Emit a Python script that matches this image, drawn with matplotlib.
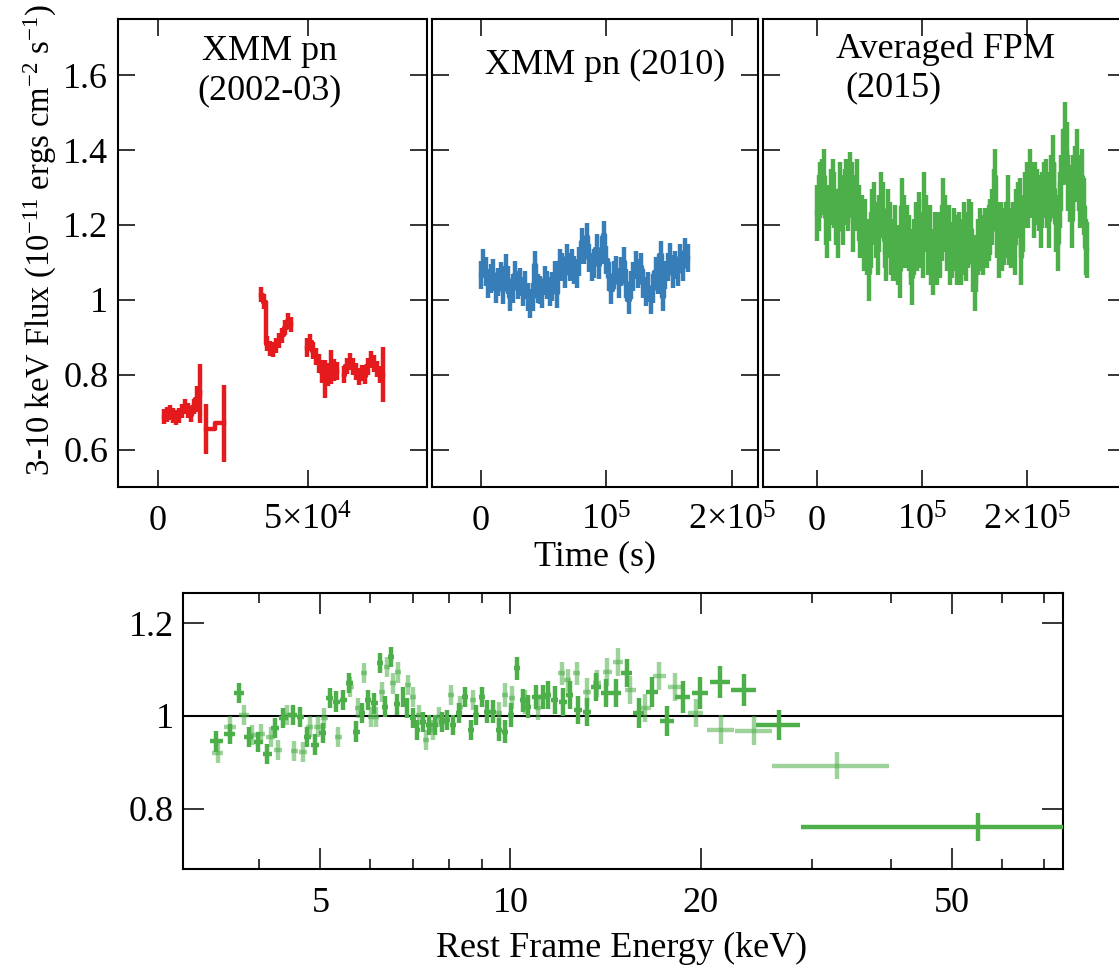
import numpy as np
import matplotlib
matplotlib.use("Agg")
import matplotlib.pyplot as plt
from matplotlib.ticker import FixedLocator, NullFormatter

plt.rcParams["font.family"] = ["Liberation Serif", "DejaVu Serif"]
plt.rcParams["mathtext.fontset"] = "custom"
plt.rcParams["mathtext.rm"] = "Liberation Serif"
plt.rcParams["mathtext.default"] = "regular"

RED = "#e41a1c"
BLUE = "#377eb8"
GREEN = "#4daf4a"
FS = 26

# ---------------- light curves: 3-10 keV flux (1e-11 erg/cm2/s) ----------------
# XMM pn 2002-03: several exposure segments (start time, bin size, fluxes, errors)
pn0203_segments = [
    (2000, 1000,
     [0.687, 0.694, 0.699, 0.692, 0.685, 0.690, 0.703, 0.714, 0.705, 0.693, 0.714, 0.735, 0.750],
     [0.02, 0.02, 0.02, 0.02, 0.02, 0.02, 0.02, 0.02, 0.02, 0.02, 0.02, 0.035, 0.078]),
    (16000, 6000,
     [0.656, 0.670],
     [0.067, 0.103]),
    (34500, 1000,
     [1.013, 0.995, 0.883, 0.870, 0.866, 0.878, 0.890, 0.905, 0.925, 0.944, 0.935],
     [0.02] * 11),
    (49800, 1000,
     [0.872, 0.886, 0.864, 0.848, 0.830, 0.808, 0.788, 0.800, 0.820, 0.812, 0.810],
     [0.025, 0.022, 0.022, 0.022, 0.025, 0.03, 0.05, 0.03, 0.045, 0.03, 0.025]),
    (62000, 1000,
     [0.800, 0.823, 0.835, 0.822, 0.808, 0.795, 0.805, 0.797, 0.822, 0.840, 0.830, 0.815, 0.800, 0.800],
     [0.022] * 13 + [0.073]),
]

# XMM pn 2010
pn2010_start, pn2010_bin = 0, 1960
pn2010_flux = [
    1.066, 1.097, 1.075, 1.044, 1.057, 1.070, 1.030, 1.048, 1.062, 1.026,
    1.084, 1.053, 1.008, 1.030, 1.066, 1.040, 1.048, 1.022, 1.040, 1.008,
    0.990, 1.008, 1.093, 1.030, 1.026, 1.017, 1.053, 1.040, 1.022, 1.035,
    1.066, 1.017, 1.097, 1.088, 1.070, 1.111, 1.088, 1.097, 1.079, 1.070,
    1.102, 1.155, 1.133, 1.168, 1.111, 1.088, 1.097, 1.137, 1.093, 1.133,
    1.173, 1.106, 1.062, 1.026, 1.066, 1.079, 1.044, 1.075, 1.102, 1.044,
    1.000, 1.040, 1.062, 1.093, 1.070, 1.088, 1.044, 1.022, 1.035, 1.000,
    1.030, 1.075, 1.053, 1.119, 1.008, 1.066, 1.088, 1.115, 1.070, 1.093,
    1.075, 1.111, 1.088, 1.128, 1.111,
]
pn2010_err = 0.038

# NuSTAR averaged FPM 2015
fpm_start, fpm_bin = 0, 1650
fpm_flux = [
    1.231, 1.258, 1.293, 1.302, 1.329, 1.222, 1.186, 1.231, 1.275, 1.302,
    1.266, 1.222, 1.186, 1.293, 1.258, 1.222, 1.275, 1.302, 1.258, 1.320,
    1.293, 1.204, 1.258, 1.302, 1.231, 1.186, 1.204, 1.151, 1.195, 1.142,
    1.071, 1.160, 1.222, 1.240, 1.186, 1.142, 1.204, 1.266, 1.240, 1.160,
    1.124, 1.222, 1.186, 1.142, 1.124, 1.178, 1.124, 1.115, 1.079, 1.249,
    1.204, 1.160, 1.178, 1.151, 1.115, 1.062, 1.142, 1.186, 1.151, 1.213,
    1.160, 1.133, 1.266, 1.204, 1.142, 1.178, 1.115, 1.089, 1.160, 1.115,
    1.160, 1.133, 1.178, 1.249, 1.204, 1.151, 1.178, 1.115, 1.133, 1.169,
    1.151, 1.115, 1.160, 1.115, 1.142, 1.186, 1.124, 1.160, 1.195, 1.186,
    1.097, 1.044, 1.097, 1.142, 1.169, 1.151, 1.142, 1.169, 1.160, 1.178,
    1.195, 1.222, 1.275, 1.329, 1.186, 1.133, 1.186, 1.151, 1.169, 1.186,
    1.258, 1.169, 1.160, 1.186, 1.142, 1.222, 1.240, 1.249, 1.115, 1.204,
    1.266, 1.293, 1.266, 1.329, 1.293, 1.240, 1.293, 1.275, 1.258, 1.213,
    1.266, 1.293, 1.302, 1.266, 1.213, 1.311, 1.364, 1.293, 1.204, 1.151,
    1.266, 1.311, 1.382, 1.453, 1.400, 1.311, 1.284, 1.213, 1.311, 1.337,
    1.382, 1.311, 1.266, 1.329, 1.249, 1.142, 1.133,
]
fpm_err = 0.075

flux_ticks = [0.6, 0.8, 1.0, 1.2, 1.4, 1.6]
flux_ticklabels = ["0.6", "0.8", "1", "1.2", "1.4", "1.6"]

# ---------------- spectral ratio: data / model vs rest-frame energy ----------------
fpma_energy = [
    3.42, 3.59, 3.72, 3.85, 3.99, 4.12, 4.24, 4.37, 4.52, 4.65,
    4.77, 4.91, 5.04, 5.17, 5.30, 5.44, 5.56, 5.70, 5.82, 5.95,
    6.09, 6.22, 6.33, 6.47, 6.62, 6.76, 6.86, 7.01, 7.12, 7.27,
    7.43, 7.59, 7.79, 7.93, 8.11, 8.29, 8.47, 8.66, 8.82, 9.02,
    9.18, 9.38, 9.59, 9.80, 10.02, 10.24, 10.46, 10.66, 10.97, 11.25,
    11.46, 11.76, 12.10, 12.41, 12.78, 13.21, 13.66, 14.18, 14.69, 15.29,
    15.97, 16.75, 17.70, 18.74, 19.98, 21.45, 23.42, 26.6, 55.1,
]
fpma_halfwidth = [
    0.08, 0.07, 0.065, 0.065, 0.07, 0.065, 0.065, 0.07, 0.07, 0.065,
    0.065, 0.07, 0.065, 0.065, 0.065, 0.065, 0.065, 0.07, 0.065, 0.065,
    0.07, 0.065, 0.065, 0.07, 0.075, 0.06, 0.06, 0.07, 0.065, 0.08,
    0.08, 0.085, 0.09, 0.08, 0.09, 0.09, 0.09, 0.09, 0.09, 0.09,
    0.09, 0.1, 0.1, 0.1, 0.11, 0.11, 0.11, 0.12, 0.15, 0.14,
    0.13, 0.15, 0.17, 0.17, 0.19, 0.2, 0.23, 0.25, 0.27, 0.3,
    0.33, 0.38, 0.45, 0.5, 0.6, 0.78, 1.1, 2.1, 26.3,
]
fpma_ratio = [
    0.945, 0.961, 1.049, 0.955, 0.944, 0.918, 0.974, 0.996, 1.002, 0.998,
    0.955, 0.938, 0.963, 1.039, 1.031, 1.034, 1.071, 0.966, 1.006, 1.034,
    1.027, 1.114, 1.020, 1.127, 1.025, 1.041, 1.017, 0.996, 0.970, 0.987,
    0.980, 0.980, 0.987, 0.991, 0.980, 1.006, 1.041, 0.970, 1.002, 1.041,
    1.009, 1.009, 0.970, 0.966, 1.002, 1.103, 1.034, 1.020, 1.041, 1.041,
    1.045, 1.034, 1.030, 1.045, 1.013, 1.009, 1.062, 1.049, 1.049, 1.092,
    1.006, 1.052, 0.989, 1.041, 1.049, 1.073, 1.056, 0.981, 0.761,
]
fpma_ratio_err = [0.022] * 40 + [0.025] * 10 + [0.03] * 10 + [
    0.032, 0.032, 0.033, 0.034, 0.034, 0.035, 0.035, 0.032, 0.03]

fpmb_energy = [
    3.44, 3.60, 3.78, 3.90, 4.02, 4.17, 4.29, 4.43, 4.55, 4.69,
    4.81, 4.95, 5.07, 5.34, 5.58, 5.74, 5.87, 6.02, 6.13, 6.27,
    6.38, 6.52, 6.64, 6.89, 7.01, 7.17, 7.36, 7.54, 7.71, 8.05,
    8.32, 8.72, 9.59, 9.80, 10.06, 10.54, 11.05, 12.06, 12.33, 12.73,
    13.21, 13.70, 14.24, 14.82, 15.48, 16.34, 17.22, 18.22, 19.65, 21.53,
    24.32, 32.86,
]
fpmb_halfwidth = [
    0.07, 0.08, 0.07, 0.06, 0.07, 0.07, 0.065, 0.065, 0.065, 0.07,
    0.065, 0.065, 0.065, 0.07, 0.07, 0.07, 0.065, 0.065, 0.065, 0.07,
    0.07, 0.07, 0.07, 0.07, 0.07, 0.08, 0.08, 0.08, 0.08, 0.09,
    0.09, 0.09, 0.1, 0.1, 0.11, 0.12, 0.13, 0.15, 0.16, 0.17,
    0.19, 0.21, 0.23, 0.26, 0.3, 0.35, 0.4, 0.45, 0.55, 1.08,
    1.67, 6.9,
]
fpmb_ratio = [
    0.920, 0.977, 1.002, 0.959, 0.961, 0.955, 0.927, 1.002, 0.925, 0.922,
    0.977, 0.977, 0.996, 0.955, 1.062, 1.017, 1.092, 0.998, 0.998, 1.052,
    1.105, 1.070, 1.094, 1.067, 1.041, 1.002, 0.948, 0.970, 0.998, 1.045,
    1.020, 1.034, 1.006, 1.045, 1.039, 1.030, 1.017, 1.092, 1.077, 1.092,
    1.052, 1.070, 1.094, 1.116, 1.056, 1.017, 1.086, 1.062, 1.006, 0.970,
    0.968, 0.893,
]
fpmb_ratio_err = [0.022] * 32 + [0.025] * 8 + [0.03] * 9 + [0.031, 0.031, 0.029]

energy_major = [5, 10, 20, 50]
energy_minor = [4, 6, 7, 8, 9, 30, 40, 60, 70]
ratio_ticks = [0.8, 1.0, 1.2]
ratio_ticklabels = ["0.8", "1", "1.2"]

# ---------------- figure ----------------
W, H = 1119, 975
fig = plt.figure(figsize=(W / 100, H / 100), dpi=100)


def frac_box(x0, x1, y0, y1):
    return [x0 / W, 1 - y1 / H, (x1 - x0) / W, (y1 - y0) / H]


ax1 = fig.add_axes(frac_box(118, 427, 19, 487))
ax2 = fig.add_axes(frac_box(432, 758, 19, 487))
ax3 = fig.add_axes(frac_box(763, 1125, 19, 487))
axb = fig.add_axes(frac_box(183, 1063, 593, 869))

LW = 3.2


def draw_curve(ax, t, v, e, color):
    ax.step(t, v, where="mid", color=color, lw=LW, zorder=3)
    ax.errorbar(t, v, yerr=e, fmt="none", ecolor=color, elinewidth=LW,
                capsize=0, zorder=3)


for start, step, vals, errs in pn0203_segments:
    t = start + step * np.arange(len(vals))
    draw_curve(ax1, t, vals, errs, RED)

t2010 = pn2010_start + pn2010_bin * np.arange(len(pn2010_flux))
draw_curve(ax2, t2010, pn2010_flux, pn2010_err, BLUE)

tfpm = fpm_start + fpm_bin * np.arange(len(fpm_flux))
draw_curve(ax3, tfpm, fpm_flux, fpm_err, GREEN)

top_axes = [ax1, ax2, ax3]
ax1.set_xlim(-13300, 89700)
ax2.set_xlim(-39000, 220700)
ax3.set_xlim(-51400, 293300)
ax1.set_xticks([0, 50000], ["0", "5×10$^4$"])
ax2.set_xticks([0, 100000, 200000], ["0", "10$^5$", "2×10$^5$"])
ax3.set_xticks([0, 100000, 200000], ["0", "10$^5$", "2×10$^5$"])

for ax in top_axes:
    ax.set_ylim(0.5, 1.75)
    ax.set_yticks(flux_ticks, flux_ticklabels)
    ax.tick_params(which="both", direction="in", top=True, right=True,
                   length=12, width=1.1, labelsize=FS)
    ax.tick_params(axis="x", pad=31)
    ax.tick_params(axis="y", pad=7)
    for s in ax.spines.values():
        s.set_linewidth(1.5)
for ax in (ax2, ax3):
    ax.tick_params(labelleft=False)

ax1.text(0.492, 0.930, "XMM pn", transform=ax1.transAxes, ha="center",
         va="center", fontsize=FS)
ax1.text(0.492, 0.846, "(2002-03)", transform=ax1.transAxes, ha="center",
         va="center", fontsize=FS)
ax2.text(0.532, 0.900, "XMM pn (2010)", transform=ax2.transAxes, ha="center",
         va="center", fontsize=FS)
ax3.text(0.504, 0.936, "Averaged FPM", transform=ax3.transAxes, ha="center",
         va="center", fontsize=FS)
ax3.text(0.3605, 0.853, "(2015)", transform=ax3.transAxes, ha="center",
         va="center", fontsize=FS)

fig.text(40 / W, 1 - 240 / H,
         "3-10 keV Flux (10$^{-11}$ ergs cm$^{-2}$ s$^{-1}$)",
         rotation=90, ha="center", va="center", fontsize=23.5)
fig.text(595 / W, 1 - 557 / H, "Time (s)", ha="center", va="center", fontsize=FS)

# ratio panel
axb.axhline(1.0, color="black", lw=1.5, zorder=1.5)
axb.errorbar(fpmb_energy, fpmb_ratio, xerr=fpmb_halfwidth, yerr=fpmb_ratio_err,
             fmt="none", ecolor=GREEN, alpha=0.55, elinewidth=LW, capsize=0,
             zorder=2)
axb.errorbar(fpma_energy, fpma_ratio, xerr=fpma_halfwidth, yerr=fpma_ratio_err,
             fmt="none", ecolor=GREEN, elinewidth=LW, capsize=0, zorder=3)
axb.set_xscale("log")
axb.set_xlim(3.03, 75)
axb.set_ylim(0.67, 1.265)
axb.xaxis.set_major_locator(FixedLocator(energy_major))
axb.xaxis.set_minor_locator(FixedLocator(energy_minor))
axb.set_xticklabels([str(v) for v in energy_major])
axb.xaxis.set_minor_formatter(NullFormatter())
axb.set_yticks(ratio_ticks, ratio_ticklabels)
axb.tick_params(which="both", direction="in", top=True, right=True,
                width=1.1, labelsize=FS)
axb.tick_params(which="major", length=15)
axb.tick_params(which="minor", length=7)
axb.tick_params(axis="x", pad=31)
axb.tick_params(axis="y", pad=6.5)
for s in axb.spines.values():
    s.set_linewidth(1.5)
fig.text(622 / W, 1 - 948 / H, "Rest Frame Energy (keV)", ha="center",
         va="center", fontsize=FS)

fig.canvas.draw()
for ax in top_axes + [axb]:
    for lab in ax.get_xticklabels():
        lab.set_verticalalignment("baseline")

fig.savefig("out.png", dpi=100)
